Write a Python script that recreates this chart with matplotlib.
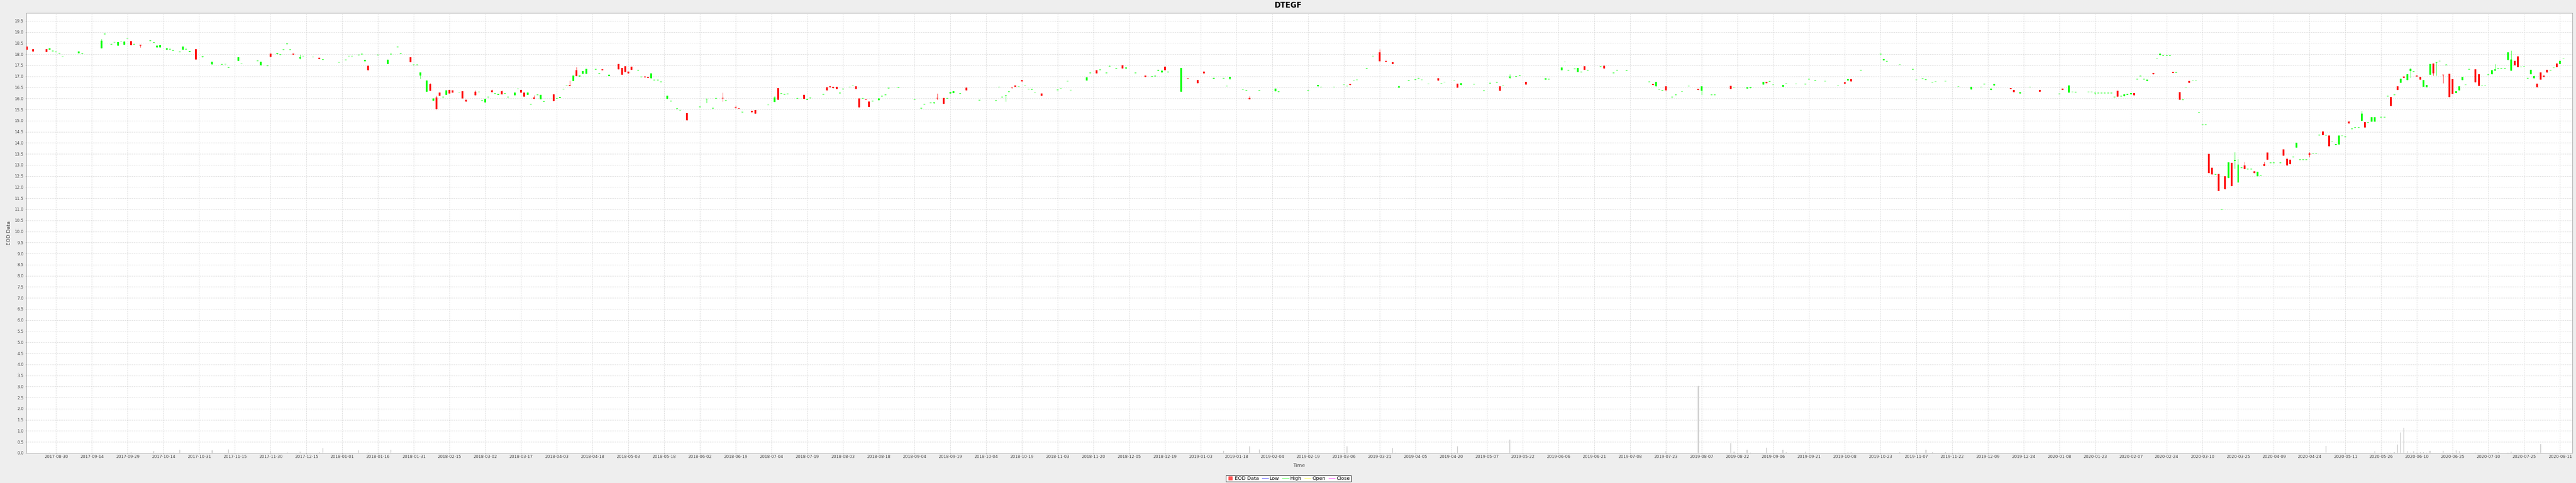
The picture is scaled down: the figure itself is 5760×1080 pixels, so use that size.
import matplotlib
matplotlib.use("Agg")
import matplotlib.pyplot as plt
from matplotlib.lines import Line2D
import numpy as np

plt.rcParams['font.family'] = ['DejaVu Sans']

title = "DTEGF"
x_label = "Time"
y_label = "EOD Data"
legend_labels = ["EOD Data", "Low", "High", "Open", "Close"]

# x tick labels, one every 11 weekdays starting at weekday index 0
tick_labels = [
    "2017-08-30", "2017-09-14", "2017-09-29", "2017-10-14", "2017-10-31", "2017-11-15", "2017-11-30", "2017-12-15",
    "2018-01-01", "2018-01-16", "2018-01-31", "2018-02-15", "2018-03-02", "2018-03-17", "2018-04-03", "2018-04-18",
    "2018-05-03", "2018-05-18", "2018-06-02", "2018-06-19", "2018-07-04", "2018-07-19", "2018-08-03", "2018-08-18",
    "2018-09-04", "2018-09-19", "2018-10-04", "2018-10-19", "2018-11-03", "2018-11-20", "2018-12-05", "2018-12-19",
    "2019-01-03", "2019-01-18", "2019-02-04", "2019-02-19", "2019-03-06", "2019-03-21", "2019-04-05", "2019-04-20",
    "2019-05-07", "2019-05-22", "2019-06-06", "2019-06-21", "2019-07-08", "2019-07-23", "2019-08-07", "2019-08-22",
    "2019-09-06", "2019-09-21", "2019-10-08", "2019-10-23", "2019-11-07", "2019-11-22", "2019-12-09", "2019-12-24",
    "2020-01-08", "2020-01-23", "2020-02-07", "2020-02-24", "2020-03-10", "2020-03-25", "2020-04-09", "2020-04-24",
    "2020-05-11", "2020-05-26", "2020-06-10", "2020-06-25", "2020-07-10", "2020-07-25", "2020-08-11",
]

# weekday index (Mon-Fri timeline, 0 = 2017-08-30)
day = [
    -9, -7, -3, -2, -1, 0, 1, 2, 7, 8,
    14, 15, 17, 18, 19, 20, 21, 22, 23, 24,
    26, 29, 30, 31, 32, 34, 35, 36, 38, 39,
    40, 41, 43, 45, 48, 51, 52, 53, 56, 57,
    62, 63, 65, 66, 68, 69, 70, 71, 72, 73,
    75, 76, 79, 81, 82, 87, 89, 90, 91, 93,
    94, 95, 96, 99, 102, 103, 105, 106, 109, 110,
    111, 112, 114, 115, 116, 117, 118, 119, 120, 121,
    122, 124, 125, 126, 129, 130, 131, 132, 133, 134,
    135, 136, 137, 138, 139, 141, 142, 143, 144, 145,
    146, 147, 148, 149, 150, 153, 154, 155, 156, 157,
    158, 159, 160, 161, 162, 163, 166, 167, 168, 170,
    173, 174, 175, 176, 177, 179, 180, 181, 182, 183,
    184, 185, 186, 188, 189, 191, 192, 194, 198, 200,
    202, 203, 205, 206, 209, 210, 211, 214, 215, 219,
    221, 222, 223, 224, 225, 228, 230, 231, 232, 236,
    237, 238, 239, 240, 241, 242, 244, 245, 246, 247,
    248, 249, 250, 251, 253, 254, 255, 256, 259, 264,
    266, 267, 269, 270, 271, 273, 274, 275, 276, 278,
    280, 284, 289, 290, 291, 292, 293, 294, 295, 296,
    297, 298, 299, 300, 301, 303, 308, 309, 311, 312,
    317, 318, 320, 321, 323, 324, 326, 328, 329, 332,
    335, 337, 338, 339, 340, 341, 342, 346, 348, 351,
    353, 356, 359, 360, 361, 365, 366, 367, 370, 375,
    376, 385, 388, 389, 393, 396, 397, 398, 399, 400,
    403, 405, 407, 409, 411, 413, 416, 418, 419, 420,
    422, 425, 426, 427, 430, 431, 432, 436, 439, 441,
    443, 444, 445, 447, 449, 450, 452, 458, 459, 463,
    464, 465, 467, 468, 469, 470, 471, 475, 476, 479,
    480, 483, 490, 491, 492, 493, 494, 495, 497, 498,
    500, 502, 505, 506, 509, 510, 515, 516, 520, 521,
    525, 526, 527, 528, 531, 532, 535, 538, 539, 541,
    544, 548, 550, 551, 552, 555, 561, 562, 563, 567,
    571, 572, 574, 575, 577, 578, 581, 585, 589, 592,
    593, 595, 596, 601, 602, 604, 607, 610, 616, 617,
    619, 620, 621, 625, 626, 627, 628, 629, 630, 631,
    632, 633, 634, 635, 636, 637, 638, 639, 640, 641,
    642, 643, 645, 646, 647, 648, 649, 650, 651, 652,
    653, 654, 655, 656, 657, 658, 659, 660, 661, 662,
    663, 664, 665, 666, 667, 668, 669, 670, 671, 672,
    673, 674, 675, 676, 677, 678, 679, 680, 681, 682,
    684, 685, 686, 687, 688, 689, 690, 691, 692, 693,
    694, 695, 696, 697, 698, 699, 700, 701, 702, 703,
    704, 705, 706, 707, 708, 709, 710, 711, 712, 713,
    715, 716, 717, 718, 719, 720, 721, 722, 723, 724,
    725, 726, 727, 728, 729, 730, 731, 732, 733, 734,
    735, 736, 737, 738, 739, 740, 741, 742, 744, 745,
    746, 747, 748, 749, 750, 751, 752, 753, 754, 755,
    756, 757, 758, 759, 760, 761, 762, 763, 764, 765,
    766, 767, 768, 769, 770, 771,
]

open_ = [
    18.34, 18.22, 18.22, 18.20, 18.14, 18.11, 18.05, 17.89, 18.04, 18.03,
    18.26, 18.91, 18.45, 18.54, 18.38, 18.56, 18.43, 18.70, 18.59, 18.44,
    18.42, 18.61, 18.53, 18.30, 18.30, 18.20, 18.23, 18.17, 18.10, 18.20,
    18.22, 18.10, 18.22, 17.86, 17.54, 17.54, 17.55, 17.40, 17.70, 17.57,
    17.70, 17.50, 17.48, 18.03, 18.01, 17.98, 18.21, 18.47, 18.21, 18.03,
    17.81, 17.91, 17.87, 17.85, 17.76, 17.63, 17.74, 17.91, 17.91, 17.97,
    18.01, 17.68, 17.47, 17.96, 17.55, 18.01, 18.33, 18.03, 17.87, 17.52,
    17.52, 17.03, 16.30, 16.65, 15.90, 16.05, 16.26, 16.06, 16.17, 16.38,
    16.37, 16.28, 16.32, 15.95, 16.30, 16.30, 15.90, 15.83, 16.07, 16.37,
    16.22, 16.16, 16.32, 16.22, 16.07, 16.15, 16.44, 16.38, 16.27, 16.17,
    15.75, 16.04, 16.17, 15.97, 15.86, 16.19, 16.01, 16.02, 16.42, 16.60,
    16.62, 16.80, 17.27, 16.99, 17.12, 17.12, 17.31, 17.13, 17.31, 17.01,
    17.55, 17.37, 17.45, 17.21, 17.43, 17.28, 16.97, 17.00, 16.98, 16.92,
    16.83, 16.83, 16.75, 15.99, 15.89, 15.54, 15.47, 15.33, 15.62, 15.96,
    15.56, 16.00, 16.03, 15.90, 15.60, 15.57, 15.37, 15.43, 15.48, 15.71,
    15.84, 16.47, 16.23, 16.19, 16.21, 16.01, 16.16, 15.94, 16.03, 16.19,
    16.51, 16.54, 16.52, 16.52, 16.24, 16.43, 16.52, 16.58, 16.54, 16.00,
    16.00, 15.97, 15.86, 15.88, 15.93, 16.10, 16.17, 16.47, 16.49, 15.97,
    15.56, 15.74, 15.81, 15.78, 16.03, 16.03, 16.00, 16.22, 16.25, 16.23,
    16.49, 15.92, 15.90, 16.52, 16.07, 16.12, 16.31, 16.49, 16.60, 16.54,
    16.83, 16.60, 16.42, 16.41, 16.28, 16.23, 16.39, 16.46, 16.78, 16.38,
    16.81, 17.16, 17.27, 17.30, 17.16, 17.46, 17.35, 17.50, 17.36, 17.15,
    17.03, 16.99, 17.02, 17.25, 17.17, 17.43, 17.20, 16.30, 16.92, 16.83,
    17.22, 16.89, 16.91, 16.56, 16.90, 16.40, 16.37, 16.02, 16.37, 16.32,
    16.31, 16.37, 16.56, 16.52, 16.52, 16.62, 16.56, 16.66, 16.80, 16.84,
    17.35, 17.91, 18.08, 17.71, 17.63, 16.48, 16.81, 16.86, 16.92, 16.84,
    16.66, 16.91, 16.68, 16.74, 16.80, 16.68, 16.62, 16.64, 16.35, 16.69,
    16.73, 16.54, 16.60, 16.94, 16.99, 17.03, 16.75, 16.86, 16.88, 17.28,
    17.65, 17.27, 17.34, 17.19, 17.20, 17.46, 17.28, 17.44, 17.48, 17.15,
    17.28, 17.26, 16.75, 16.65, 16.56, 16.40, 16.37, 16.54, 16.07, 16.16,
    16.32, 16.56, 16.43, 16.35, 16.17, 16.16, 16.58, 16.50, 16.44, 16.46,
    16.64, 16.75, 16.77, 16.62, 16.52, 16.68, 16.66, 16.65, 16.87, 16.81,
    16.78, 16.60, 16.73, 16.81, 16.87, 17.28, 18.01, 17.72, 17.68, 17.53,
    17.31, 16.84, 16.89, 16.86, 16.72, 16.76, 16.78, 16.54, 16.40, 16.52,
    16.65, 16.39, 16.59, 16.46, 16.39, 16.22, 16.52, 16.38, 16.20, 16.44,
    16.27, 16.30, 16.29, 16.30, 16.30, 16.25, 16.25, 16.25, 16.25, 16.25,
    16.25, 16.07, 16.34, 16.11, 16.11, 16.16, 16.19, 16.25, 16.88, 17.01,
    16.87, 16.80, 17.16, 17.81, 17.97, 17.94, 17.94, 17.94, 17.19, 17.17,
    16.28, 15.95, 16.50, 16.79, 16.80, 16.80, 15.36, 14.82, 14.82, 13.50,
    12.87, 12.58, 12.60, 11.00, 12.50, 12.42, 13.10, 13.17, 12.22, 12.87,
    12.98, 12.82, 12.82, 12.72, 12.50, 12.54, 13.04, 13.56, 13.10, 13.10,
    13.10, 13.71, 13.28, 13.24, 13.36, 13.79, 13.24, 13.24, 13.24, 13.52,
    13.51, 13.51, 14.35, 14.51, 14.34, 14.33, 14.06, 13.90, 13.93, 14.32,
    14.27, 14.96, 14.63, 14.70, 14.70, 15.00, 14.94, 14.92, 14.96, 14.96,
    15.15, 15.15, 16.11, 16.07, 16.17, 16.56, 16.72, 16.99, 16.83, 17.24,
    17.22, 17.04, 16.97, 16.52, 16.50, 17.08, 17.57, 17.61, 17.69, 17.07,
    17.52, 17.12, 16.87, 16.25, 16.37, 16.84, 16.62, 17.32, 17.31, 17.09,
    16.60, 16.60, 17.07, 17.10, 17.26, 17.36, 17.36, 17.35, 17.75, 17.26,
    17.71, 17.91, 17.43, 17.45, 16.92, 17.09, 16.91, 16.67, 17.17, 17.03,
    17.29, 17.28, 17.39, 17.57, 17.55, 17.79,
]

high = [
    18.34, 18.22, 18.22, 18.26, 18.14, 18.11, 18.05, 17.89, 18.12, 18.03,
    18.69, 18.91, 18.45, 18.54, 18.55, 18.56, 18.59, 18.70, 18.59, 18.44,
    18.42, 18.61, 18.53, 18.38, 18.40, 18.26, 18.23, 18.17, 18.10, 18.34,
    18.22, 18.14, 18.22, 17.91, 17.67, 17.54, 17.55, 17.40, 17.87, 17.57,
    17.70, 17.67, 17.48, 18.03, 18.05, 17.98, 18.21, 18.47, 18.21, 18.03,
    17.98, 17.91, 17.87, 17.85, 17.76, 17.63, 17.74, 17.91, 17.91, 17.97,
    18.01, 17.75, 17.47, 17.96, 17.78, 18.01, 18.33, 18.03, 17.87, 17.52,
    17.52, 17.17, 16.82, 16.70, 16.00, 16.13, 16.26, 16.06, 16.37, 16.38,
    16.37, 16.28, 16.32, 15.95, 16.36, 16.30, 15.90, 15.99, 16.07, 16.40,
    16.22, 16.20, 16.36, 16.22, 16.07, 16.27, 16.44, 16.38, 16.27, 16.27,
    15.75, 16.14, 16.17, 16.16, 15.86, 16.19, 16.01, 16.07, 16.42, 16.60,
    16.81, 17.03, 17.41, 17.03, 17.24, 17.33, 17.31, 17.13, 17.31, 17.07,
    17.55, 17.37, 17.45, 17.21, 17.43, 17.28, 16.97, 17.00, 16.98, 17.13,
    16.83, 16.83, 16.75, 16.12, 15.89, 15.54, 15.47, 15.33, 15.62, 16.00,
    15.56, 16.00, 16.27, 15.90, 15.68, 15.57, 15.39, 15.43, 15.48, 15.71,
    16.10, 16.47, 16.23, 16.19, 16.21, 16.01, 16.16, 15.98, 16.03, 16.19,
    16.51, 16.54, 16.52, 16.52, 16.24, 16.43, 16.52, 16.58, 16.54, 16.00,
    16.00, 15.97, 15.86, 15.88, 16.00, 16.10, 16.17, 16.47, 16.49, 15.97,
    15.56, 15.74, 15.81, 15.83, 16.22, 16.03, 16.00, 16.28, 16.32, 16.23,
    16.49, 15.92, 15.90, 16.52, 16.07, 16.15, 16.31, 16.49, 16.60, 16.54,
    16.83, 16.60, 16.42, 16.41, 16.28, 16.23, 16.39, 16.46, 16.78, 16.38,
    16.96, 17.16, 17.27, 17.30, 17.16, 17.46, 17.35, 17.50, 17.40, 17.15,
    17.03, 16.99, 17.02, 17.29, 17.25, 17.43, 17.20, 17.37, 16.92, 16.83,
    17.22, 16.93, 16.91, 16.56, 16.98, 16.40, 16.37, 16.10, 16.37, 16.44,
    16.31, 16.37, 16.62, 16.52, 16.52, 16.62, 16.56, 16.66, 16.80, 16.84,
    17.35, 17.91, 18.23, 17.71, 17.63, 16.60, 16.81, 16.86, 16.92, 16.84,
    16.66, 16.91, 16.68, 16.74, 16.80, 16.68, 16.69, 16.64, 16.35, 16.69,
    16.73, 16.54, 16.60, 17.09, 16.99, 17.03, 16.75, 16.91, 16.88, 17.39,
    17.65, 17.27, 17.34, 17.38, 17.20, 17.46, 17.28, 17.44, 17.48, 17.15,
    17.28, 17.26, 16.75, 16.65, 16.76, 16.40, 16.37, 16.54, 16.07, 16.16,
    16.32, 16.56, 16.43, 16.54, 16.17, 16.16, 16.58, 16.50, 16.50, 16.50,
    16.76, 16.75, 16.77, 16.62, 16.62, 16.68, 16.66, 16.65, 16.87, 16.81,
    16.78, 16.60, 16.73, 16.88, 16.87, 17.28, 18.01, 17.78, 17.68, 17.53,
    17.31, 16.84, 16.89, 16.86, 16.72, 16.76, 16.78, 16.54, 16.52, 16.52,
    16.65, 16.44, 16.65, 16.46, 16.39, 16.29, 16.52, 16.38, 16.20, 16.44,
    16.60, 16.30, 16.29, 16.30, 16.30, 16.25, 16.25, 16.25, 16.25, 16.25,
    16.25, 16.07, 16.34, 16.11, 16.19, 16.20, 16.25, 16.25, 16.88, 17.01,
    16.87, 16.86, 17.16, 17.81, 18.03, 17.94, 17.94, 17.94, 17.19, 17.17,
    16.28, 15.95, 16.50, 16.79, 16.80, 16.80, 15.36, 14.82, 14.82, 13.50,
    12.87, 12.58, 12.60, 11.00, 12.50, 13.12, 13.10, 13.58, 13.29, 12.87,
    13.14, 12.82, 12.82, 12.72, 12.69, 12.54, 13.14, 13.56, 13.10, 13.10,
    13.10, 13.71, 13.28, 13.24, 13.36, 14.00, 13.24, 13.24, 13.24, 13.59,
    13.51, 13.51, 14.35, 14.51, 14.34, 14.33, 14.06, 13.95, 14.32, 14.32,
    14.27, 15.00, 14.63, 14.70, 14.70, 15.43, 14.94, 14.92, 15.15, 15.15,
    15.15, 15.15, 16.11, 16.07, 16.17, 16.56, 16.90, 16.99, 17.09, 17.37,
    17.22, 17.04, 16.97, 16.83, 16.62, 17.55, 17.57, 17.64, 17.69, 17.07,
    17.52, 17.12, 16.87, 16.33, 16.55, 16.98, 16.62, 17.32, 17.31, 17.09,
    16.60, 16.60, 17.07, 17.28, 17.55, 17.36, 17.36, 17.35, 18.08, 18.17,
    17.71, 17.91, 17.43, 17.45, 16.92, 17.30, 17.04, 16.67, 17.17, 17.03,
    17.29, 17.28, 17.39, 17.57, 17.71, 17.79,
]

low = [
    18.20, 18.12, 18.10, 18.20, 18.14, 18.11, 18.05, 17.89, 18.04, 18.03,
    18.26, 18.91, 18.45, 18.54, 18.38, 18.56, 18.43, 18.70, 18.41, 18.44,
    18.30, 18.61, 18.53, 18.30, 18.30, 18.20, 18.23, 18.17, 18.10, 18.20,
    18.22, 18.10, 17.77, 17.86, 17.54, 17.54, 17.55, 17.40, 17.70, 17.57,
    17.70, 17.50, 17.48, 17.88, 18.01, 17.98, 18.21, 18.47, 18.21, 17.99,
    17.78, 17.91, 17.87, 17.79, 17.76, 17.63, 17.74, 17.91, 17.91, 17.97,
    18.01, 17.68, 17.27, 17.96, 17.55, 18.01, 18.33, 18.03, 17.63, 17.52,
    17.52, 16.89, 16.30, 16.34, 15.90, 15.52, 16.13, 16.06, 16.17, 16.22,
    16.26, 16.28, 16.00, 15.86, 16.15, 16.30, 15.90, 15.83, 16.07, 16.29,
    16.22, 16.16, 16.19, 16.22, 16.07, 16.15, 16.44, 16.27, 16.09, 16.17,
    15.75, 15.98, 16.17, 15.97, 15.86, 15.89, 16.01, 16.02, 16.42, 16.60,
    16.58, 16.80, 17.02, 16.99, 17.12, 17.12, 17.31, 17.13, 17.27, 17.01,
    17.32, 17.08, 17.19, 17.13, 17.30, 17.28, 16.97, 16.96, 16.94, 16.92,
    16.83, 16.83, 16.75, 15.99, 15.89, 15.54, 15.47, 15.02, 15.62, 15.81,
    15.56, 16.00, 15.86, 15.90, 15.56, 15.54, 15.37, 15.37, 15.31, 15.71,
    15.84, 15.95, 16.23, 16.19, 16.21, 16.01, 15.99, 15.94, 16.03, 16.19,
    16.36, 16.50, 16.46, 16.43, 16.24, 16.43, 16.52, 16.58, 16.43, 15.60,
    16.00, 15.94, 15.62, 15.88, 15.93, 16.10, 16.17, 16.47, 16.49, 15.97,
    15.56, 15.74, 15.81, 15.78, 15.95, 15.76, 16.00, 16.22, 16.25, 16.23,
    16.37, 15.92, 15.90, 16.52, 16.07, 15.86, 16.31, 16.46, 16.53, 16.54,
    16.77, 16.60, 16.42, 16.41, 16.28, 16.13, 16.39, 16.46, 16.78, 16.38,
    16.81, 17.16, 17.13, 17.30, 17.16, 17.46, 17.35, 17.36, 17.36, 17.15,
    16.97, 16.99, 17.02, 17.25, 17.17, 17.28, 17.20, 16.30, 16.89, 16.69,
    17.14, 16.89, 16.91, 16.56, 16.85, 16.40, 16.37, 15.97, 16.37, 16.32,
    16.31, 16.37, 16.56, 16.52, 16.52, 16.62, 16.56, 16.62, 16.80, 16.84,
    17.35, 17.91, 17.69, 17.65, 17.56, 16.48, 16.81, 16.86, 16.92, 16.84,
    16.66, 16.82, 16.68, 16.74, 16.80, 16.48, 16.62, 16.64, 16.35, 16.69,
    16.73, 16.35, 16.60, 16.89, 16.99, 17.03, 16.63, 16.86, 16.88, 17.28,
    17.65, 17.27, 17.34, 17.19, 17.20, 17.29, 17.28, 17.44, 17.36, 17.15,
    17.28, 17.26, 16.75, 16.62, 16.56, 16.40, 16.37, 16.37, 16.07, 16.16,
    16.32, 16.56, 16.39, 16.16, 16.17, 16.16, 16.43, 16.50, 16.44, 16.46,
    16.64, 16.70, 16.77, 16.62, 16.52, 16.68, 16.66, 16.65, 16.87, 16.81,
    16.78, 16.60, 16.68, 16.81, 16.78, 17.28, 18.01, 17.72, 17.68, 17.53,
    17.31, 16.84, 16.89, 16.86, 16.72, 16.76, 16.78, 16.54, 16.40, 16.52,
    16.65, 16.39, 16.59, 16.42, 16.29, 16.22, 16.52, 16.31, 16.20, 16.38,
    16.27, 16.30, 16.29, 16.30, 16.30, 16.19, 16.25, 16.25, 16.25, 16.25,
    16.25, 16.07, 16.09, 16.11, 16.11, 16.16, 16.19, 16.14, 16.88, 17.01,
    16.87, 16.80, 17.09, 17.81, 17.97, 17.94, 17.94, 17.94, 17.15, 17.17,
    15.94, 15.95, 16.50, 16.71, 16.80, 16.80, 15.36, 14.82, 14.82, 12.64,
    12.58, 12.58, 11.83, 11.00, 11.91, 12.42, 12.04, 12.84, 12.22, 12.87,
    12.81, 12.82, 12.82, 12.63, 12.50, 12.54, 12.95, 13.24, 13.10, 13.10,
    13.10, 13.43, 12.98, 13.04, 13.36, 13.79, 13.24, 13.24, 13.24, 13.36,
    13.51, 13.51, 14.35, 14.35, 14.34, 13.85, 14.06, 13.90, 13.93, 14.32,
    14.27, 14.87, 14.63, 14.70, 14.70, 15.00, 14.70, 14.92, 14.96, 14.96,
    15.15, 15.15, 16.11, 15.66, 16.17, 16.38, 16.72, 16.93, 16.83, 16.93,
    17.22, 17.00, 16.86, 16.52, 16.50, 17.08, 17.03, 17.04, 17.69, 16.70,
    17.52, 16.07, 16.21, 16.25, 16.37, 16.84, 16.62, 17.32, 16.74, 16.58,
    16.60, 16.60, 17.07, 17.10, 17.26, 17.36, 17.36, 17.35, 17.75, 17.26,
    17.50, 17.42, 17.43, 17.45, 16.92, 17.09, 16.91, 16.50, 16.86, 16.98,
    17.17, 17.28, 17.39, 17.41, 17.55, 17.79,
]

close = [
    18.20, 18.12, 18.10, 18.26, 18.14, 18.11, 18.05, 17.89, 18.12, 18.03,
    18.60, 18.91, 18.45, 18.54, 18.55, 18.56, 18.56, 18.70, 18.41, 18.44,
    18.39, 18.61, 18.53, 18.38, 18.40, 18.26, 18.23, 18.17, 18.10, 18.34,
    18.22, 18.14, 17.77, 17.91, 17.67, 17.54, 17.55, 17.40, 17.87, 17.57,
    17.70, 17.67, 17.48, 17.88, 18.05, 17.98, 18.21, 18.47, 18.21, 17.99,
    17.87, 17.91, 17.87, 17.79, 17.76, 17.63, 17.74, 17.91, 17.91, 17.97,
    18.01, 17.75, 17.27, 17.96, 17.74, 18.01, 18.33, 18.03, 17.63, 17.52,
    17.52, 17.17, 16.82, 16.34, 16.00, 15.52, 16.13, 16.06, 16.37, 16.22,
    16.26, 16.28, 16.00, 15.86, 16.15, 16.30, 15.90, 15.99, 16.07, 16.29,
    16.22, 16.20, 16.19, 16.22, 16.07, 16.27, 16.44, 16.27, 16.09, 16.27,
    15.75, 15.98, 16.17, 16.16, 15.86, 15.89, 16.01, 16.07, 16.42, 16.60,
    16.58, 17.03, 17.02, 17.03, 17.24, 17.33, 17.31, 17.13, 17.27, 17.07,
    17.32, 17.08, 17.19, 17.13, 17.30, 17.28, 16.97, 16.96, 16.94, 17.13,
    16.83, 16.83, 16.75, 16.12, 15.89, 15.54, 15.47, 15.02, 15.62, 15.99,
    15.56, 16.00, 16.00, 15.90, 15.56, 15.54, 15.39, 15.37, 15.31, 15.71,
    16.04, 15.95, 16.23, 16.19, 16.21, 16.01, 15.99, 15.98, 16.03, 16.19,
    16.36, 16.50, 16.46, 16.43, 16.24, 16.43, 16.52, 16.58, 16.43, 15.60,
    16.00, 15.94, 15.62, 15.88, 16.00, 16.10, 16.17, 16.47, 16.49, 15.97,
    15.56, 15.74, 15.81, 15.83, 16.00, 15.76, 16.00, 16.28, 16.32, 16.23,
    16.37, 15.92, 15.90, 16.52, 16.07, 16.15, 16.31, 16.46, 16.53, 16.54,
    16.77, 16.60, 16.42, 16.41, 16.28, 16.13, 16.39, 16.46, 16.78, 16.38,
    16.96, 17.16, 17.13, 17.30, 17.16, 17.46, 17.35, 17.36, 17.40, 17.15,
    16.97, 16.99, 17.02, 17.29, 17.25, 17.28, 17.20, 17.37, 16.89, 16.69,
    17.14, 16.93, 16.91, 16.56, 16.98, 16.40, 16.37, 15.97, 16.37, 16.44,
    16.31, 16.37, 16.62, 16.52, 16.52, 16.62, 16.56, 16.62, 16.80, 16.84,
    17.35, 17.91, 17.69, 17.65, 17.56, 16.56, 16.81, 16.86, 16.92, 16.84,
    16.66, 16.82, 16.68, 16.74, 16.80, 16.48, 16.69, 16.64, 16.35, 16.69,
    16.73, 16.35, 16.60, 17.00, 16.99, 17.03, 16.63, 16.91, 16.88, 17.39,
    17.65, 17.27, 17.34, 17.38, 17.20, 17.29, 17.28, 17.44, 17.36, 17.15,
    17.28, 17.26, 16.75, 16.62, 16.76, 16.40, 16.37, 16.37, 16.07, 16.16,
    16.32, 16.56, 16.39, 16.54, 16.17, 16.16, 16.43, 16.50, 16.50, 16.50,
    16.76, 16.70, 16.77, 16.62, 16.62, 16.68, 16.66, 16.65, 16.87, 16.81,
    16.78, 16.60, 16.68, 16.88, 16.78, 17.28, 18.01, 17.78, 17.68, 17.53,
    17.31, 16.84, 16.89, 16.86, 16.72, 16.76, 16.78, 16.54, 16.52, 16.52,
    16.65, 16.44, 16.65, 16.42, 16.29, 16.29, 16.52, 16.31, 16.20, 16.38,
    16.60, 16.30, 16.29, 16.30, 16.30, 16.25, 16.25, 16.25, 16.25, 16.25,
    16.25, 16.07, 16.09, 16.11, 16.19, 16.20, 16.25, 16.14, 16.88, 17.01,
    16.87, 16.86, 17.09, 17.81, 18.03, 17.94, 17.94, 17.94, 17.15, 17.17,
    15.94, 15.95, 16.50, 16.71, 16.80, 16.80, 15.36, 14.82, 14.82, 12.64,
    12.58, 12.58, 11.83, 11.00, 11.91, 13.12, 12.04, 13.21, 13.02, 12.87,
    12.81, 12.82, 12.82, 12.63, 12.69, 12.54, 12.95, 13.24, 13.10, 13.10,
    13.10, 13.43, 12.98, 13.04, 13.36, 14.00, 13.24, 13.24, 13.24, 13.47,
    13.51, 13.51, 14.35, 14.35, 14.34, 13.85, 14.06, 13.95, 14.32, 14.32,
    14.27, 14.87, 14.63, 14.70, 14.70, 15.31, 14.70, 14.92, 15.15, 15.15,
    15.15, 15.15, 16.11, 15.66, 16.17, 16.38, 16.90, 16.93, 17.09, 17.34,
    17.22, 17.00, 16.86, 16.83, 16.62, 17.55, 17.14, 17.64, 17.69, 17.05,
    17.52, 16.07, 16.21, 16.33, 16.55, 16.98, 16.62, 17.32, 16.74, 16.58,
    16.60, 16.60, 17.07, 17.28, 17.32, 17.36, 17.36, 17.35, 18.08, 17.76,
    17.50, 17.42, 17.43, 17.45, 16.92, 17.30, 17.01, 16.50, 16.86, 16.98,
    17.17, 17.28, 17.39, 17.41, 17.71, 17.79,
]

# volume (relative units) on the weekday index
vol_day = [-2, 23, 30, 35, 36, 38, 48, 53, 66, 71, 75, 81, 82, 93, 96, 103,
           353, 359, 367, 370, 397, 411, 412, 430, 431, 447,
           495, 505, 515, 516, 520, 521, 526, 531, 532, 538, 551, 552, 567, 575, 577, 581, 585,
           698,
           713, 717, 718, 719, 720, 721, 722, 723, 724, 725, 726, 727, 728, 729, 730,
           734, 738, 739, 744, 750, 751, 754, 755, 760, 763, 764, 769]
volume = [1.0, 2.3, 4.3, 1.0, 1.0, 6.7, 5.7, 8.3, 4.3, 2.3, 3.0, 2.3, 10.7, 5.7, 1.0, 7.0,
          1.0, 5.0, 15.0, 7.7, 15.0, 10.7, 1.0, 1.0, 15.0, 30.0,
          4.0, 150.0, 22.0, 3.0, 7.0, 1.0, 12.0, 7.0, 1.5, 3.3, 2.0, 2.0, 2.0, 7.3, 2.0, 2.0, 1.0,
          16.0,
          4.3, 0.7, 0.7, 1.7, 19.3, 46.3, 56.0, 4.3, 1.0, 4.3, 1.0, 2.3, 2.3, 1.0, 5.0,
          5.0, 5.7, 4.3, 1.3, 1.3, 2.0, 1.3, 3.3, 1.0, 0.7, 20.3, 0.7]

n = len(day)
assert all(len(a) == n for a in (open_, high, low, close)), [len(a) for a in (day, open_, high, low, close)]
assert len(vol_day) == len(volume)

# ---------------- layout (pixels) ----------------
W, H, DPI = 5760, 1080, 100
PT = 72.0 / DPI
L, R, T, B = 59, 5752, 29, 1013
fig = plt.figure(figsize=(W / DPI, H / DPI), dpi=DPI, facecolor="#EEEEEE")
ax = fig.add_axes([L / W, 1 - B / H, (R - L) / W, (B - T) / H])
ax.set_facecolor("white")

x_lo, x_hi = -9.13, 773.8
y_lo, y_hi = 0.0, 19.86
ax.set_xlim(x_lo, x_hi)
ax.set_ylim(y_lo, y_hi)

d = np.array(day, dtype=float)
o = np.array(open_)
h = np.array(high)
lo = np.array(low)
c = np.array(close)

up = c > o
down = c < o
flat = c == o

GREEN = "#00FF00"
RED = "#FF0000"
FLAT = "#66FF66"

# volume bars
v = np.array(volume)
ax.bar(vol_day, v / v.max() * 3.03, width=0.3, color="#D2D2D2", linewidth=0, zorder=2)

# wicks
wick_col = np.where(down, "#FF3030", "#30FF30")
ax.vlines(d, lo, h, colors=list(wick_col), linewidth=1.0 * PT, zorder=3)

BW = 0.55
ax.bar(d[up], (c - o)[up], bottom=o[up], width=BW, color=GREEN, linewidth=0, zorder=4)
ax.bar(d[down], (o - c)[down], bottom=c[down], width=BW, color=RED, linewidth=0, zorder=4)
ax.bar(d[flat], 0.035, bottom=o[flat] - 0.0175, width=BW, color=FLAT, linewidth=0, zorder=4)

# grid / ticks
ax.set_xticks(np.arange(len(tick_labels)) * 11)
ax.set_xticklabels(tick_labels)
yt = np.arange(0, 19.51, 0.5)
ax.set_yticks(yt)
ax.set_yticklabels([f"{t:.1f}" for t in yt])
ax.set_axisbelow(True)
ax.grid(True, color="#D0D0D0", linestyle=(0, (2, 2)), linewidth=1.0 * PT, zorder=0)

for s in ax.spines.values():
    s.set_color("#A0A0A0")
    s.set_linewidth(1.0 * PT)

ax.tick_params(axis="both", direction="out", length=2 * PT, width=1.0 * PT, color="#A0A0A0",
               labelsize=9.2 * PT, labelcolor="#444444")
ax.tick_params(axis="x", pad=2.5 * PT)
ax.tick_params(axis="y", pad=4.0 * PT)

# texts
fig.text(0.5, 1 - 12 / H, title, ha="center", va="center", fontsize=16.5 * PT,
         fontweight="bold", color="black")
fig.text((L + R) / 2 / W, 1 - 1041 / H, x_label, ha="center", va="center",
         fontsize=11 * PT, color="#444444")
fig.text(20 / W, 1 - (T + B) / 2 / H, y_label, ha="center", va="center", rotation=90,
         fontsize=11 * PT, color="#444444")

handles = [
    Line2D([], [], marker="s", linestyle="none", color="#FF5555", markersize=8 * PT),
    Line2D([], [], color="#5555FF", linewidth=1.2 * PT),
    Line2D([], [], color="#55FF55", linewidth=1.2 * PT),
    Line2D([], [], color="#FFFF55", linewidth=1.2 * PT),
    Line2D([], [], color="#FF55FF", linewidth=1.2 * PT),
]
leg = fig.legend(handles, legend_labels, loc="center", bbox_to_anchor=(2881 / W, 1 - 1070 / H),
                 ncol=5, fontsize=11 * PT, frameon=True, fancybox=False, edgecolor="black",
                 facecolor="white", framealpha=1, borderpad=0.2, handlelength=1.3,
                 handletextpad=0.3, columnspacing=0.6, borderaxespad=0)
leg.get_frame().set_linewidth(1.0 * PT)

fig.savefig("out.png", dpi=DPI, facecolor=fig.get_facecolor())
